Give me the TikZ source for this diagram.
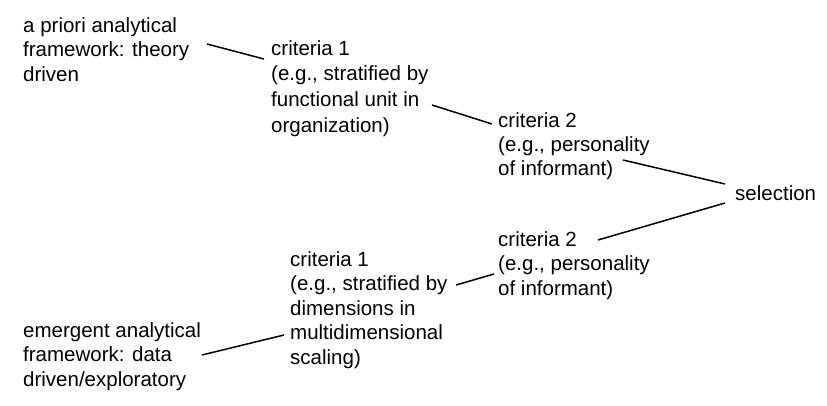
\documentclass[tikz,border=0pt]{standalone}
\usepackage{fontspec}
\setmainfont{Liberation Sans}
\newcommand\blk[1]{\begin{tabular}[t]{@{}l@{}}#1\end{tabular}}
\begin{document}
\begin{tikzpicture}[x=1pt,y=-1pt,
  lbl/.style={anchor=base west, inner sep=0pt, font=\fontsize{20.5}{#1}\selectfont},
  lbl/.default=25,
  link/.style={draw, line width=1.5pt}]
\useasboundingbox (0,0) rectangle (827,405);
\node[lbl=24.5] (A) at (23,32) {\blk{a priori analytical\\framework: theory\\driven}};
\node[lbl=25.7] (B) at (271,55) {\blk{criteria 1\\(e.g., stratified by\\functional unit in\\organization)}};
\node[lbl=24] (C) at (498,127) {\blk{criteria 2\\(e.g., personality\\of informant)}};
\node[lbl] (S) at (735,200) {\blk{selection}};
\node[lbl=24.5] (D) at (498,246) {\blk{criteria 2\\(e.g., personality\\of informant)}};
\node[lbl=24.5] (E) at (290,266) {\blk{criteria 1\\(e.g., stratified by\\dimensions in\\multidimensional\\scaling)}};
\node[lbl=24.5] (F) at (23,337) {\blk{emergent analytical\\framework: data\\driven/exploratory}};
\coordinate (a1) at (207,44);  \coordinate (b1) at (264,59);
\coordinate (b2) at (432,105); \coordinate (c1) at (492,124);
\coordinate (c2) at (623,160); \coordinate (s1) at (725,184);
\coordinate (d1) at (598,240); \coordinate (s2) at (725,203);
\coordinate (e1) at (456,285); \coordinate (d2) at (494,274);
\coordinate (f1) at (202,355); \coordinate (e2) at (284,335);
\draw[link] (a1) -- (b1);
\draw[link] (b2) -- (c1);
\draw[link] (c2) -- (s1);
\draw[link] (d1) -- (s2);
\draw[link] (e1) -- (d2);
\draw[link] (f1) -- (e2);
\end{tikzpicture}
\end{document}
